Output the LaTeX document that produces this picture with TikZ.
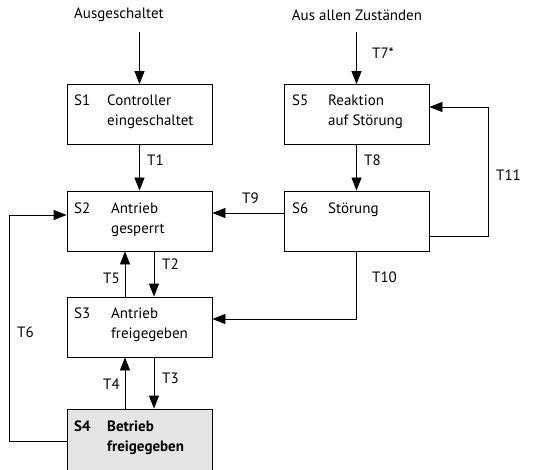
\documentclass[tikz,border=0pt]{standalone}
\usepackage{fontspec}
\setmainfont{PT Sans}
\usetikzlibrary{arrows.meta}
\begin{document}
\begin{tikzpicture}[x=1pt,y=-1pt,
  font=\fontsize{15}{20}\selectfont,
  box/.style={draw,line width=0.8pt,minimum width=145pt,minimum height=60pt,inner sep=0pt},
  txt/.style={anchor=base west,inner sep=0pt,align=left},
  lbl/.style={anchor=west,inner sep=0pt},
  arr/.style={line width=0.8pt,-{Triangle[length=13pt,width=10pt]}},
  ln/.style={line width=0.8pt}]
\useasboundingbox (0,0) rectangle (545,470);
% boxes
\node[box] (s1) at (139.5,114.5) {};
\node[box] (s5) at (356.5,114.5) {};
\node[box] (s2) at (139.5,221) {};
\node[box] (s6) at (356.5,221) {};
\node[box] (s3) at (139.5,327) {};
\node[box,fill=black!10,minimum height=66pt] (s4) at (139.5,442) {};
% box texts (base anchor = baseline of last line)
\node[txt] (s1id) at (74,106) {S1};
\node[txt] (s1t) at (107,126) {Controller\\eingeschaltet};
\node[txt] (s5id) at (292,106) {S5};
\node[txt] (s5t) at (328,126) {Reaktion\\auf Störung};
\node[txt] (s2id) at (74,213) {S2};
\node[txt] (s2t) at (111,233) {Antrieb\\gesperrt};
\node[txt] (s6id) at (292,213) {S6};
\node[txt] (s6t) at (328,213) {Störung};
\node[txt] (s3id) at (74,318) {S3};
\node[txt] (s3t) at (111,338) {Antrieb\\freigegeben};
\node[txt,font=\fontsize{15}{20}\selectfont\bfseries] (s4id) at (74,431) {S4};
\node[txt,font=\fontsize{15}{20}\selectfont\bfseries] (s4t) at (107,451) {Betrieb\\freigegeben};
% entry texts
\node[inner sep=0pt] (aus) at (119,15) {Ausgeschaltet};
\node[inner sep=0pt] (all) at (357,15) {Aus allen Zuständen};
\coordinate (in1) at (139.5,32);
\coordinate (in2) at (356.5,32);
% connectors
\draw[arr] (in1) -- (s1);
\draw[arr] (in2) -- (s5);
\draw[arr] (s1) -- (s2);
\draw[arr] (s5) -- (s6);
\draw[arr] ([xshift=14.5pt]s2.south) -- ([xshift=14.5pt]s3.north);
\draw[arr] ([xshift=-14.5pt]s3.north) -- ([xshift=-14.5pt]s2.south);
\draw[arr] ([xshift=14.5pt]s3.south) -- ([xshift=14.5pt]s4.north);
\draw[arr] ([xshift=-14.5pt]s4.north) -- ([xshift=-14.5pt]s3.south);
\draw[arr] ([yshift=8pt]s6.west) -- ([yshift=8pt]s2.east);
\draw[arr] (s6.south) |- ([yshift=8pt]s3.east);
\coordinate (c11) at (488,236);
\draw[arr] (s6.east |- c11) -- (c11) |- ([yshift=7.5pt]s5.east);
\coordinate (c6) at (9,441);
\draw[arr] (s4.west |- c6) -- (c6) |- ([yshift=6pt]s2.west);
% transition labels
\node[lbl] (t7) at (372,53) {T7*};
\node[lbl] (t1) at (147,160) {T1};
\node[lbl] (t8) at (364,160) {T8};
\node[lbl] (t11) at (496,175) {T11};
\node[lbl] (t9) at (242,198) {T9};
\node[lbl] (t2) at (162,264) {T2};
\node[lbl] (t5) at (103,278) {T5};
\node[lbl] (t10) at (372,277) {T10};
\node[lbl] (t6) at (17,332) {T6};
\node[lbl] (t4) at (103,384) {T4};
\node[lbl] (t3) at (162,378) {T3};
\end{tikzpicture}
\end{document}
